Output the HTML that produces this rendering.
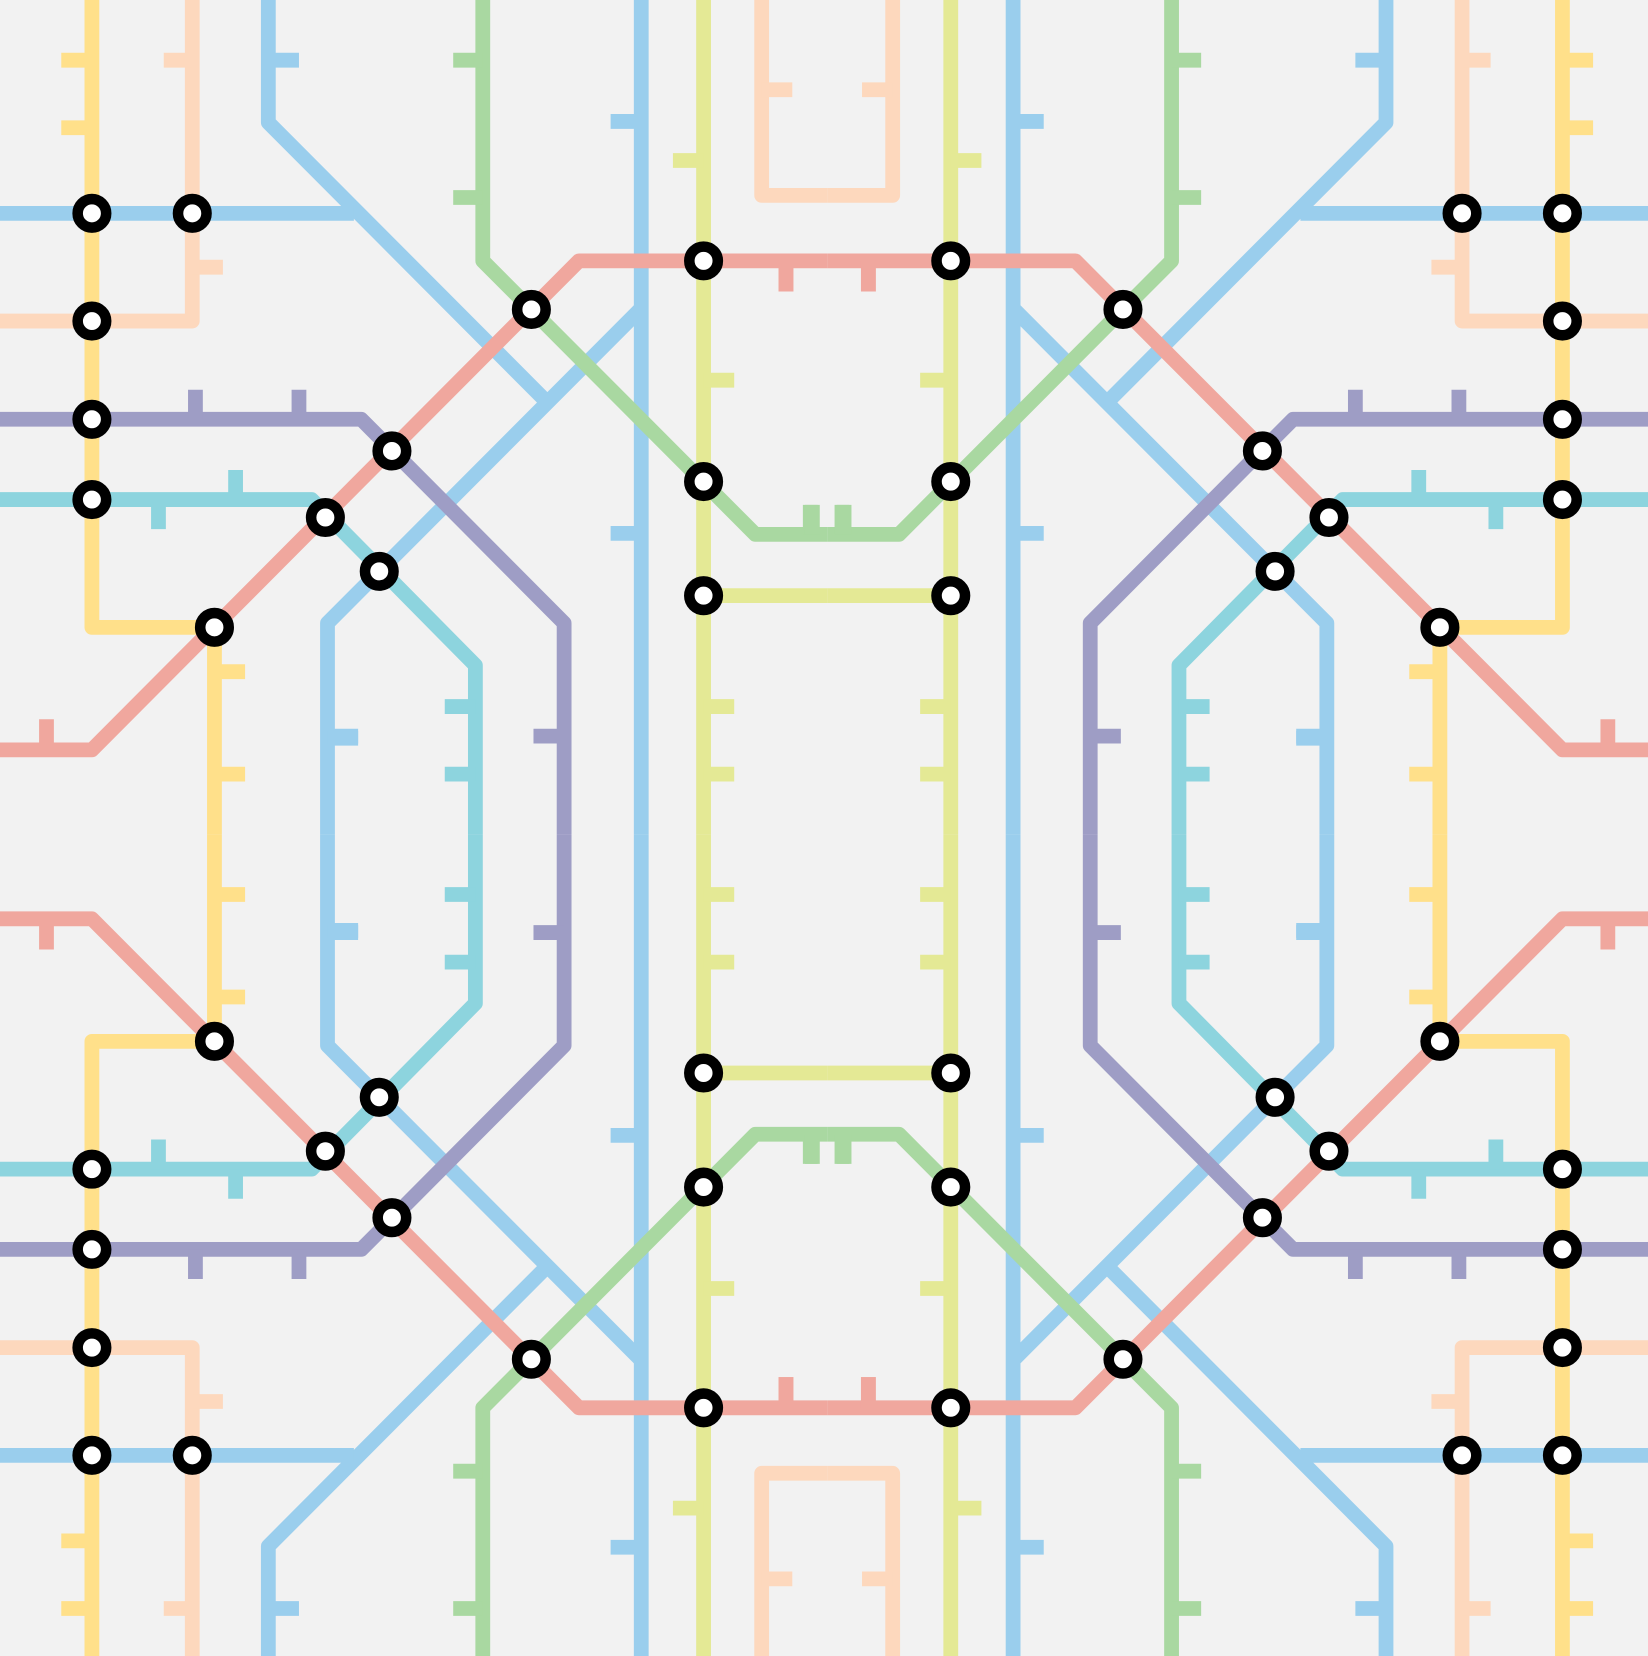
<!DOCTYPE html>
<html><head><meta charset="utf-8"><style>
html,body{margin:0;padding:0;background:#F2F2F2;}
svg{display:block;}
</style></head><body>
<svg id="map" width="1648" height="1656" viewBox="0 0 1560 1568" preserveAspectRatio="none" xmlns="http://www.w3.org/2000/svg">
<rect x="0" y="0" width="1560" height="1568" fill="#F2F2F2"/>
<g id="lines"></g><g id="ticks"></g><g id="stations"></g>
</svg>
<script>
const colors = {yellow:'#FFE08A',peach:'#FDD8BD',blue:'#9ACEED',green:'#A9D8A1',lime:'#E4E995',salmon:'#F0A79E',purple:'#9E9DC5',cyan:'#8DD4DE'};
const routeNames = ['yellow','peach','peach','blue','blue','blue','blue','green','lime','lime','salmon','purple','cyan'];
const routePoints = [
 [[87,0],[87,594],[203,594],[203,790]],
 [[182,0],[182,304],[0,304]],
 [[721,0],[721,185],[783,185]],
 [[254,0],[254,116],[517,380]],
 [[0,202],[335,202]],
 [[607,292],[310,590],[310,790]],
 [[607,0],[607,790]],
 [[457,0],[457,247],[715,506],[783,506]],
 [[666,0],[666,790]],
 [[666,564],[783,564]],
 [[783,247],[548,247],[87,710],[0,710]],
 [[0,397],[342,397],[534,590],[534,790]],
 [[0,473],[295,473],[450,630],[450,790]]
];
const tickNames = ['yellow','yellow','yellow','yellow','peach','peach','peach','blue','blue','blue','blue','blue','green','green','green','green','lime','lime','lime','lime','salmon','salmon','salmon','purple','purple','purple','cyan','cyan','cyan','cyan'];
const tickSegs = [
 [58,57,87,57],[58,121,87,121],[203,636,232,636],[203,733,232,733],
 [155,57,182,57],[182,253,211,253],[721,85,750,85],
 [254,57,283,57],[578,115,607,115],[578,505,607,505],[310,697,339,697],[310,881,339,881],
 [429,57,457,57],[429,187,457,187],[767,478,767,506],[797,478,797,506],
 [637,152,666,152],[666,360,695,360],[666,669,695,669],[666,733,695,733],
 [44,681,44,710],[744,247,744,276],[822,247,822,276],
 [185,369,185,397],[283,369,283,397],[505,697,534,697],
 [223,445,223,473],[150,473,150,501],[421,669,450,669],[421,733,450,733]
];
const stationPts = [[87,202],[182,202],[87,304],[87,397],[87,473],[203,594],[308,490],[371,427],[359,541],[503,293],[666,247],[666,456],[666,564]];
const W=1566,H=1580;
const NS='http://www.w3.org/2000/svg';
const mir=[[0,0],[1,0],[0,1],[1,1]];
function tx(x,m){return m?W-x:x;}
function ty(y,m){return m?H-y:y;}
const gl=document.getElementById('lines'),gt=document.getElementById('ticks'),gs=document.getElementById('stations');
mir.forEach(([mx,my])=>{
 routePoints.forEach((pts,i)=>{
  const p=document.createElementNS(NS,'polyline');
  p.setAttribute('points',pts.map(q=>tx(q[0],mx)+','+ty(q[1],my)).join(' '));
  p.setAttribute('fill','none');p.setAttribute('stroke',colors[routeNames[i]]);
  p.setAttribute('stroke-width','14');p.setAttribute('stroke-linejoin','round');
  
  
  gl.appendChild(p);
 });
 tickSegs.forEach((s,i)=>{
  const l=document.createElementNS(NS,'line');
  l.setAttribute('x1',tx(s[0],mx));l.setAttribute('y1',ty(s[1],my));
  l.setAttribute('x2',tx(s[2],mx));l.setAttribute('y2',ty(s[3],my));
  l.setAttribute('stroke',colors[tickNames[i]]);l.setAttribute('stroke-width','14');
  
  
  gt.appendChild(l);
 });
 stationPts.forEach(s=>{
  const c=document.createElementNS(NS,'circle');
  c.setAttribute('cx',tx(s[0],mx));c.setAttribute('cy',ty(s[1],my));
  c.setAttribute('r','13.5');c.setAttribute('fill','#fff');
  c.setAttribute('stroke','#000');c.setAttribute('stroke-width','10');
  
  
  gs.appendChild(c);
 });
});
</script>
</body></html>
